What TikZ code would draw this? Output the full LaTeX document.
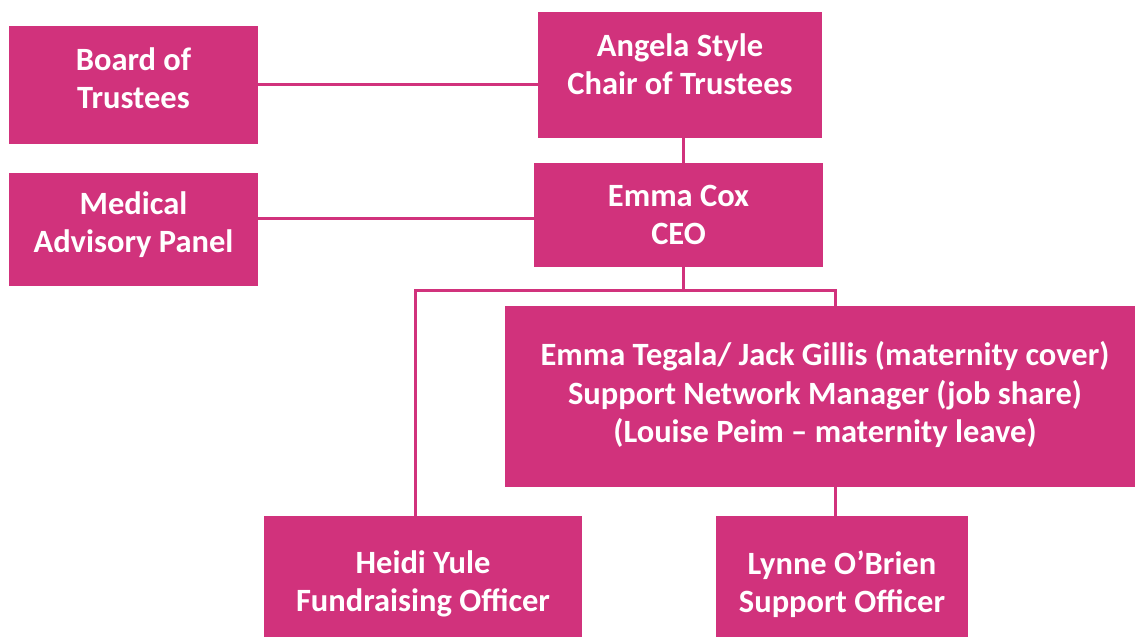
\documentclass[tikz,border=0pt]{standalone}
\usepackage{fontspec}
\setmainfont{Carlito}
\usepackage{tikz}
\definecolor{trustpink}{RGB}{209,50,124}

\begin{document}
\begin{tikzpicture}[x=1pt,y=-1pt,
    box/.style={fill=trustpink,inner sep=0pt,outer sep=0pt,anchor=north west},
    txt/.style={text=white,align=center,font=\fontsize{32.5}{38.5}\selectfont\bfseries},
    link/.style={draw=trustpink,line width=3pt}]
        \useasboundingbox (0,0) rectangle (1135,637);

        % boxes
        \node[box,minimum width=249,minimum height=118] (board) at (9,26) {};
        \node[box,minimum width=249,minimum height=113] (medical) at (9,173) {};
        \node[box,minimum width=284,minimum height=126] (angela) at (538,12) {};
        \node[box,minimum width=289,minimum height=104] (emma) at (534,163) {};
        \node[box,minimum width=640,minimum height=181] (manager) at (505,306) {};
        \node[box,minimum width=318,minimum height=136] (heidi) at (264,516) {};
        \node[box,minimum width=252,minimum height=136] (lynne) at (716,516) {};

        % texts
        \node[txt] (boardt) at ([yshift=7]board.center) {Board of\\Trustees};
        \node[txt] (medicalt) at ([yshift=5]medical.center) {Medical\\Advisory Panel};
        \node[txt] (angelat) at ([yshift=11]angela.center) {Angela Style\\Chair of Trustees};
        \node[txt] (emmat) at (emma.center) {Emma Cox\\CEO};
        \node[txt] (managert) at ([yshift=2]manager.center) {Emma Tegala/ Jack Gillis (maternity cover)\\Support Network Manager (job share)\\(Louise Peim -- maternity leave)};
        \node[txt] (heidit) at (heidi.center) {Heidi Yule\\Fundraising Officer};
        \node[txt] (lynnet) at (lynne.center) {Lynne O'Brien\\Support Officer};

        % lines
        \coordinate (bus) at (683,290);
        \coordinate (busL) at (415,290);
        \coordinate (busR) at (835,290);
        \draw[link] (board.east |- 0,84) -- (angela.west |- 0,84);
        \draw[link] (medical.east |- 0,218) -- (emma.west |- 0,218);
        \draw[link] (angela.south -| bus) -- (emma.north -| bus);
        \draw[link] (emma.south -| bus) -- (bus);
        \draw[link] (busL |- heidi.north) -- (busL) -- (busR) -- (busR |- manager.north);
        \draw[link] (manager.south -| busR) -- (busR |- lynne.north);

    \end{tikzpicture}
\end{document}
